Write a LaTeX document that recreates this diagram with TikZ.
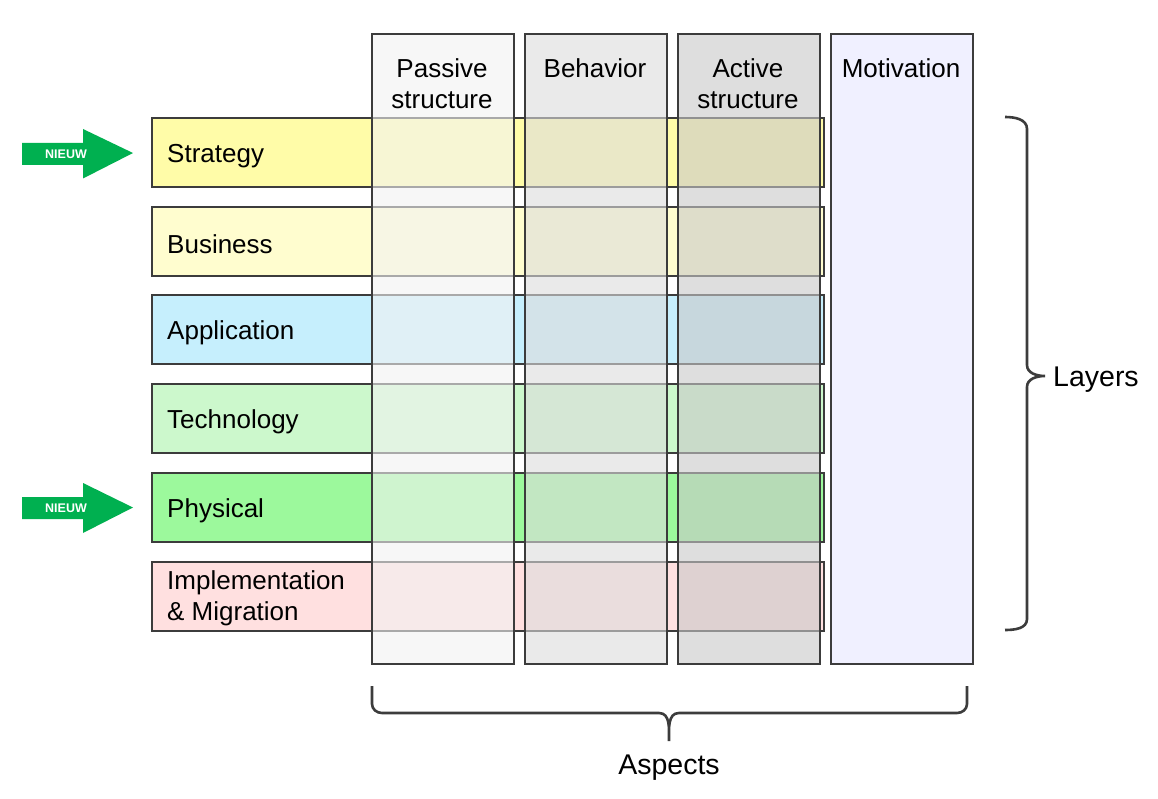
\documentclass[tikz,border=0pt]{standalone}
\usepackage{fontspec}
\setmainfont{Liberation Sans}
\definecolor{cStrategy}{HTML}{FFFCA8}
\definecolor{cBusiness}{HTML}{FFFDCF}
\definecolor{cApplication}{HTML}{C6EFFD}
\definecolor{cTechnology}{HTML}{CCF8CC}
\definecolor{cPhysical}{HTML}{9CF99C}
\definecolor{cImpl}{HTML}{FFE0E0}
\definecolor{cPassive}{HTML}{F2F2F2}
\definecolor{cBehavior}{HTML}{DCDCDC}
\definecolor{cActive}{HTML}{C8C8C8}
\definecolor{cMotivation}{HTML}{F0F0FF}
\definecolor{cBorder}{HTML}{3C3C3C}
\definecolor{cNieuw}{HTML}{00B050}
\tikzset{
  rowbox/.style={draw=cBorder, line width=1.8pt, inner sep=0pt, anchor=north west,
    minimum width=672pt, minimum height=69pt},
  colbox/.style={draw=cBorder, line width=1.8pt, inner sep=0pt, anchor=north west,
    minimum width=142pt, minimum height=630pt, fill opacity=0.6, draw opacity=1},
  lbl/.style={anchor=west, inner sep=0pt, align=left, font=\fontsize{26}{31}\selectfont},
  hdr/.style={inner sep=0pt, align=center, font=\fontsize{26}{31}\selectfont},
  bigl/.style={inner sep=0pt, font=\fontsize{28.5}{34}\selectfont},
  nieuw/.style={inner sep=0pt, text=white, font=\bfseries\fontsize{12.5}{14}\selectfont},
  bracestyle/.style={draw=cBorder, line width=2.6pt},
}
\begin{document}
\begin{tikzpicture}[x=1pt,y=-1pt]
\useasboundingbox[fill=white] (0,0) rectangle (1158,799);
% rows (opaque)
\node[rowbox, fill=cStrategy]    (strategy)    at (151,117) {};
\node[rowbox, fill=cBusiness]    (business)    at (151,206) {};
\node[rowbox, fill=cApplication] (application) at (151,294) {};
\node[rowbox, fill=cTechnology]  (technology)  at (151,383) {};
\node[rowbox, fill=cPhysical]    (physical)    at (151,472) {};
\node[rowbox, fill=cImpl]        (impl)        at (151,561) {};
% columns (translucent over rows)
\node[colbox, fill=cPassive]  (passive)  at (371,33) {};
\node[colbox, fill=cBehavior] (behavior) at (524,33) {};
\node[colbox, fill=cActive]   (active)   at (677,33) {};
\node[colbox, fill=cMotivation, fill opacity=1] (motivation) at (830,33) {};
% column headers
\node[hdr] (hpassive)  at (442,84) {Passive\\structure};
\node[hdr] (hbehavior) at (595,68) {Behavior};
\node[hdr] (hactive)   at (748,84) {Active\\structure};
\node[hdr] (hmotiv)    at (901,68) {Motivation};
% row labels
\node[lbl] (lstrategy)    at (167,156) {Strategy};
\node[lbl] (lbusiness)    at (167,244) {Business};
\node[lbl] (lapplication) at (167,333) {Application};
\node[lbl] (ltechnology)  at (167,422) {Technology};
\node[lbl] (lphysical)    at (167,511) {Physical};
\node[lbl] (limpl)        at (167,598) {Implementation\\\& Migration};
% NIEUW arrows
\fill[cNieuw] (22,143) -- (83,143) -- (83,129) -- (133,153) -- (83,178.5) -- (83,165) -- (22,165) -- cycle;
\node[nieuw] (nieuw1) at (66,154.5) {NIEUW};
\fill[cNieuw] (22,497) -- (83,497) -- (83,483) -- (133,507.5) -- (83,533) -- (83,519) -- (22,519) -- cycle;
\node[nieuw] (nieuw2) at (66,508.5) {NIEUW};
% Layers brace
\draw[bracestyle] (1005,117) to[out=0,in=90] (1027,129) -- (1027,365) to[out=-90,in=180] (1045,376)
  to[out=180,in=90] (1027,387) -- (1027,619) to[out=-90,in=0] (1005,630);
\node[bigl, anchor=west] (layers) at (1053,380) {Layers};
% Aspects brace
\draw[bracestyle] (372,686) -- (372,704) to[out=-90,in=180] (382,713) -- (659,713)
  to[out=0,in=90] (669,741) to[out=90,in=180] (679,713) -- (957,713)
  to[out=0,in=-90] (967,704) -- (967,686);
\node[bigl] (aspects) at (669,768) {Aspects};
\end{tikzpicture}
\end{document}
